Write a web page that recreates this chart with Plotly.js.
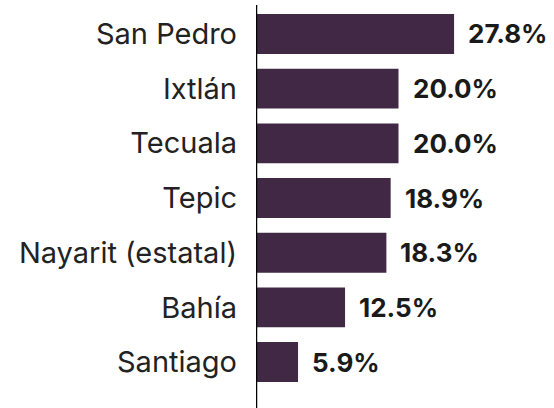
<!DOCTYPE html>
<html>
<head>
<meta charset="utf-8">
<script src="https://cdn.plot.ly/plotly-3.0.1.min.js"></script>
<style>html,body{margin:0;padding:0;background:#fff;}#chart{width:554px;height:408px;}</style>
</head>
<body>
<div id="chart"></div>
<script>
const categories = ["San Pedro", "Ixtlán", "Tecuala", "Tepic", "Nayarit (estatal)", "Bahía", "Santiago"];
const values = [27.8, 20.0, 20.0, 18.9, 18.3, 12.5, 5.9];
const valueLabels = ["27.8%", "20.0%", "20.0%", "18.9%", "18.3%", "12.5%", "5.9%"];

const FONT = "Inter, 'Open Sans', sans-serif";

const trace = {
  type: "bar",
  orientation: "h",
  y: categories,
  x: values,
  marker: {color: "#412845"},
  width: 0.73,
  hoverinfo: "skip"
};

const annotations = categories.map((c, i) => ({
  x: values[i], y: c, xref: "x", yref: "y",
  text: "<b>" + valueLabels[i] + "</b>",
  showarrow: false, xanchor: "left", yanchor: "middle", xshift: 12,
  font: {family: FONT, size: 26, color: "#1a1a1a"}
}));

const layout = {
  width: 554, height: 408,
  margin: {l: 256, r: 13, t: 5, b: 0},
  paper_bgcolor: "#fff", plot_bgcolor: "#fff",
  showlegend: false,
  xaxis: {range: [0, 40], visible: false, fixedrange: true},
  yaxis: {
    type: "category",
    range: [6.84, -0.53],
    showgrid: false, zeroline: false,
    showline: false,
    ticks: "", ticklabelstandoff: 18,
    tickfont: {family: FONT, size: 29, color: "#222"}
  },
  shapes: [{type: "line", xref: "x", yref: "paper", x0: 0, x1: 0, y0: 0, y1: 1,
            line: {color: "#000", width: 2.5}}],
  annotations: annotations
};

Plotly.newPlot("chart", [trace], layout, {staticPlot: true, displayModeBar: false});
</script>
</body>
</html>
